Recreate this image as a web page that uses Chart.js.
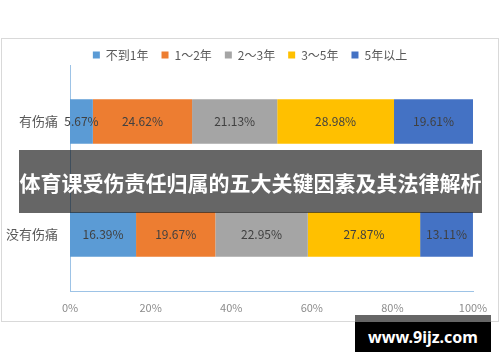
<!DOCTYPE html>
<html>
<head>
<meta charset="utf-8">
<script src="https://cdn.jsdelivr.net/npm/chart.js@4.4.1/dist/chart.umd.min.js"></script>
<style>
  body { margin: 0; background: #fff; }
  #wrap { position: relative; width: 500px; height: 362px; }
  #banner {
    position: absolute; left: 19px; top: 150px; width: 463px; height: 63px;
    background: rgba(0,0,0,0.6); color: #fff; font: bold 21px "Noto Sans CJK SC", sans-serif;
    display: flex; align-items: center; justify-content: center; white-space: nowrap;
  }
  #mark-top { position: absolute; left: 355px; top: 315px; width: 136px; height: 7px; background: #666; }
  #mark {
    position: absolute; left: 355px; top: 322px; width: 136px; height: 30px;
    background: #000; color: #fff; font: bold 16px "Noto Sans", sans-serif;
    display: flex; align-items: center; justify-content: center;
  }
</style>
</head>
<body>
<div id="wrap">
  <canvas id="chart" width="500" height="362"></canvas>
  <div id="banner">体育课受伤责任归属的五大关键因素及其法律解析</div>
  <div id="mark-top"></div>
  <div id="mark">www.9ijz.com</div>
</div>
<script>
var categories = ['有伤痛', '没有伤痛'];
var seriesNames = ['不到1年', '1～2年', '2～3年', '3～5年', '5年以上'];
var seriesColors = ['#5B9BD5', '#ED7D31', '#A5A5A5', '#FFC000', '#4472C4'];
var lessThan1 = [5.67, 16.39];
var oneToTwo = [24.62, 19.67];
var twoToThree = [21.13, 22.95];
var threeToFive = [28.98, 27.87];
var overFive = [19.61, 13.11];
var seriesValues = [lessThan1, oneToTwo, twoToThree, threeToFive, overFive];
var xTicks = [0, 20, 40, 60, 80, 100];

var fontFamily = '"Noto Sans CJK SC", "Noto Sans", sans-serif';

// frame around the chart
var framePlugin = {
  id: 'frame',
  beforeDraw: function(chart) {
    var ctx = chart.ctx;
    ctx.save();
    ctx.strokeStyle = '#d9d9d9';
    ctx.lineWidth = 1;
    ctx.strokeRect(1.5, 38.5, 497, 283);
    ctx.restore();
  }
};

// value labels in the middle of each segment
var labelPlugin = {
  id: 'segLabels',
  afterDatasetsDraw: function(chart) {
    var ctx = chart.ctx;
    ctx.save();
    ctx.font = '12px ' + fontFamily;
    ctx.fillStyle = '#404040';
    ctx.textAlign = 'center';
    ctx.textBaseline = 'middle';
    chart.data.datasets.forEach(function(ds, i) {
      chart.getDatasetMeta(i).data.forEach(function(el, j) {
        ctx.fillText(ds.data[j].toFixed(2) + '%', (el.x + el.base) / 2, el.y);
      });
    });
    ctx.restore();
  }
};

// trim the legend height and center it on the whole canvas
var legendFitPlugin = {
  id: 'legendFit',
  beforeInit: function(chart) {
    var origFit = chart.legend.fit;
    chart.legend.fit = function() {
      origFit.bind(chart.legend)();
      this.height -= 6;
    };
  },
  afterLayout: function(chart) {
    var shift = (chart.width - chart.legend.right - chart.legend.left) / 2;
    chart.legend.left += shift;
    chart.legend.right += shift;
  }
};

var ctx = document.getElementById('chart').getContext('2d');
var chart = new Chart(ctx, {
  type: 'bar',
  data: {
    labels: categories,
    datasets: seriesNames.map(function(name, i) {
      return {
        label: name,
        data: seriesValues[i],
        backgroundColor: seriesColors[i],
        borderWidth: 0,
        categoryPercentage: 1,
        barPercentage: 0.395
      };
    })
  },
  options: {
    indexAxis: 'y',
    responsive: false,
    animation: false,
    layout: { padding: { left: 0, right: 27, top: 36, bottom: 40 } },
    plugins: {
      legend: {
        position: 'top',
        labels: {
          boxWidth: 7, boxHeight: 7, padding: 13,
          color: '#595959',
          font: { size: 12, family: fontFamily }
        }
      },
      tooltip: { enabled: false }
    },
    scales: {
      x: {
        stacked: true,
        min: 0, max: 100,
        afterBuildTicks: function(scale) {
          scale.ticks = xTicks.map(function(v) { return { value: v }; });
        },
        afterFit: function(scale) { scale.height = 31; },
        grid: { display: false, drawTicks: false },
        border: { display: true, color: '#9DC3E6' },
        ticks: {
          padding: 10,
          color: '#8c8c8c',
          font: { size: 11, family: fontFamily },
          callback: function(v) { return v + '%'; }
        }
      },
      y: {
        stacked: true,
        afterFit: function(scale) { scale.width = 70; },
        grid: { display: false, drawTicks: false },
        border: { display: true, color: '#9DC3E6' },
        ticks: {
          padding: 12,
          color: '#595959',
          font: { size: 13, family: fontFamily }
        }
      }
    }
  },
  plugins: [framePlugin, labelPlugin, legendFitPlugin]
});
</script>
</body>
</html>
